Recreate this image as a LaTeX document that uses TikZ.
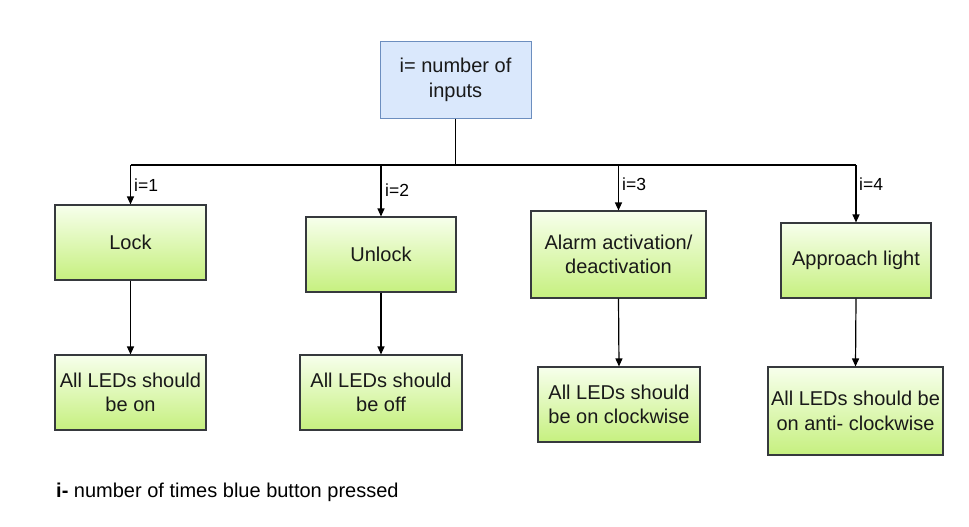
\documentclass[tikz,border=0pt]{standalone}
\usepackage{fontspec}
\setmainfont{Liberation Sans}
\usetikzlibrary{arrows.meta}
\definecolor{topfill}{HTML}{DAE8FC}
\definecolor{topline}{HTML}{6C8EBF}
\definecolor{gtop}{HTML}{F7FFEC}
\definecolor{gbot}{HTML}{C6F07F}
\definecolor{gline}{HTML}{36393D}
\begin{document}
\begin{tikzpicture}[x=1pt,y=-1pt,
  txt/.style={font=\fontsize{20}{24.5}\selectfont, align=center, text=black!90},
  bluebox/.style={txt, draw=topline, fill=topfill, line width=1pt, inner sep=0pt},
  greenbox/.style={txt, draw=gline, line width=1.1pt, top color=gtop, bottom color=gbot, inner sep=0pt},
  conn/.style={line width=1.2pt, black},
  arr/.style={conn, -{Triangle[length=8pt,width=7pt]}},
  lbl/.style={font=\fontsize{17.5}{20}\selectfont, anchor=west, inner sep=0pt}]
\useasboundingbox (0,0) rectangle (969,527);
\node[bluebox, minimum width=151pt, minimum height=76pt] (top) at (455.5,80) {i= number of\\inputs};
\node[greenbox, minimum width=151pt, minimum height=75pt] (lock) at (130.5,242.5) {Lock};
\node[greenbox, minimum width=150pt, minimum height=75pt] (unlock) at (381,254.5) {Unlock};
\node[greenbox, minimum width=175pt, minimum height=87pt] (alarm) at (618.5,254.5) {Alarm activation/\\deactivation};
\node[greenbox, minimum width=150pt, minimum height=75pt] (appr) at (856,260.5) {\raisebox{-3pt}{Approach light}};
\node[greenbox, minimum width=151pt, minimum height=75pt] (led1) at (130.5,392.5) {All LEDs should\\be on};
\node[greenbox, minimum width=162pt, minimum height=75pt] (led2) at (381,392.5) {All LEDs should\\be off};
\node[greenbox, minimum width=162pt, minimum height=75pt] (led3) at (619,404.5) {All LEDs should\\be on clockwise};
\node[greenbox, minimum width=175pt, minimum height=88pt] (led4) at (855.5,411) {All LEDs should be\\on anti- clockwise};
\coordinate (hm) at (455.5,165);
\coordinate (h1) at (130.5,165);
\coordinate (h2) at (381,165);
\coordinate (h3) at (618.5,165);
\coordinate (h4) at (856,165);
\draw[conn] (top.south) -- (hm);
\draw[conn] (h1) -- (h4);
\draw[arr] (h1) -- (lock.north);
\draw[arr] (h2) -- (unlock.north);
\draw[arr] (h3) -- (alarm.north);
\draw[arr] (h4) -- (appr.north);
\draw[arr] (lock.south) -- (led1.north);
\draw[arr] (unlock.south) -- (led2.north);
\draw[arr] (alarm.south) -- (led3.north);
\draw[arr] (appr.south) -- (led4.north);
\node[lbl] (l1) at (134,185) {i=1};
\node[lbl] (l2) at (385,190) {i=2};
\node[lbl] (l3) at (622,184) {i=3};
\node[lbl] (l4) at (859,184) {i=4};
\node[anchor=west, inner sep=0pt, font=\fontsize{20}{24}\selectfont] (note) at (56,492) {\textbf{i-} number of times blue button pressed};
\end{tikzpicture}
\end{document}
